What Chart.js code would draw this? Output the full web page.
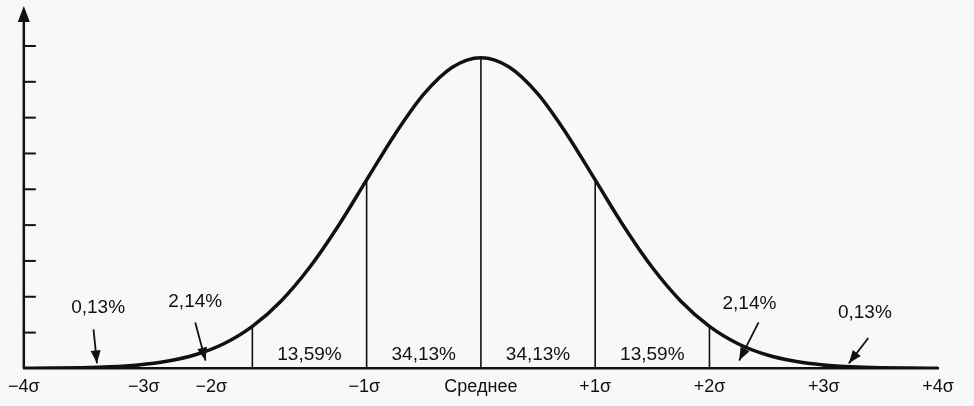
<!DOCTYPE html>
<html><head><meta charset="utf-8">
<script src="https://cdn.jsdelivr.net/npm/chart.js@4"></script>
<style>html,body{margin:0;padding:0;background:#f8f8f8}#w{width:974px;height:406px}</style>
</head><body><div id="w"><canvas id="c"></canvas></div>
<script>
const xValues = [-4,-3.75,-3.5,-3.25,-3,-2.75,-2.5,-2.25,-2,-1.75,-1.5,-1.25,-1,-0.75,-0.5,-0.25,0,0.25,0.5,0.75,1,1.25,1.5,1.75,2,2.25,2.5,2.75,3,3.25,3.5,3.75,4];
const density = [0.0001,0.0004,0.0009,0.0020,0.0044,0.0091,0.0175,0.0317,0.0540,0.0863,0.1295,0.1826,0.2420,0.3011,0.3521,0.3867,0.3989,0.3867,0.3521,0.3011,0.2420,0.1826,0.1295,0.0863,0.0540,0.0317,0.0175,0.0091,0.0044,0.0020,0.0009,0.0004,0.0001];
const tickPositions = [-4,-2.95,-2.36,-1.02,0,1,2,3,4];
const tickLabels = ['\u22124\u03c3','\u22123\u03c3','\u22122\u03c3','\u22121\u03c3','Среднее','+1\u03c3','+2\u03c3','+3\u03c3','+4\u03c3'];
const dividers = [-3,-2,-1,0,1,2,3];
const yTickValues = [0.046,0.092,0.138,0.184,0.230,0.276,0.322,0.368,0.414];
const bandLabels = ['13,59%','34,13%','34,13%','13,59%'];
const bandCenters = [-1.5,-0.5,0.5,1.5];
const tailLabels = ['0,13%','2,14%','2,14%','0,13%'];
const tailLabelPos = [[-3.35,0.078],[-2.5,0.086],[2.35,0.083],[3.36,0.072]];
const arrowFrom = [[-3.39,0.050],[-2.5,0.059],[2.43,0.059],[3.39,0.039]];
const arrowTo = [[-3.36,0.0065],[-2.41,0.010],[2.26,0.010],[3.22,0.0065]];

const deco = {
  id:'deco',
  afterDatasetsDraw(chart){
    const {ctx, scales:{x,y}, chartArea:a} = chart;
    ctx.save();
    ctx.strokeStyle='#111'; ctx.fillStyle='#111';
    ctx.lineWidth=2.5;
    ctx.beginPath(); ctx.moveTo(a.left,a.bottom); ctx.lineTo(a.left,a.top+8); ctx.stroke();
    ctx.beginPath(); ctx.moveTo(a.left,a.top-2); ctx.lineTo(a.left-6,a.top+14); ctx.lineTo(a.left+6,a.top+14); ctx.closePath(); ctx.fill();
    ctx.lineWidth=2;
    yTickValues.forEach(v=>{const py=y.getPixelForValue(v);ctx.beginPath();ctx.moveTo(a.left,py);ctx.lineTo(a.left+12,py);ctx.stroke();});
    ctx.lineWidth=1.6;
    dividers.forEach(d=>{const i=xValues.indexOf(d);const px=x.getPixelForValue(d);ctx.beginPath();ctx.moveTo(px,a.bottom);ctx.lineTo(px,y.getPixelForValue(density[i]));ctx.stroke();});
    ctx.font='19px "Liberation Sans", Arial, sans-serif';
    ctx.textAlign='center'; ctx.textBaseline='middle';
    bandLabels.forEach((t,i)=>ctx.fillText(t,x.getPixelForValue(bandCenters[i]),a.bottom-14));
    tailLabels.forEach((t,i)=>ctx.fillText(t,x.getPixelForValue(tailLabelPos[i][0]),y.getPixelForValue(tailLabelPos[i][1])));
    ctx.lineWidth=1.8;
    arrowFrom.forEach((f,i)=>{
      const x1=x.getPixelForValue(f[0]),y1=y.getPixelForValue(f[1]);
      const x2=x.getPixelForValue(arrowTo[i][0]),y2=y.getPixelForValue(arrowTo[i][1]);
      const ang=Math.atan2(y2-y1,x2-x1);
      ctx.beginPath();ctx.moveTo(x1,y1);ctx.lineTo(x2,y2);ctx.stroke();
      ctx.beginPath();ctx.moveTo(x2,y2);
      ctx.lineTo(x2-13*Math.cos(ang)+5*Math.sin(ang),y2-13*Math.sin(ang)-5*Math.cos(ang));
      ctx.lineTo(x2-13*Math.cos(ang)-5*Math.sin(ang),y2-13*Math.sin(ang)+5*Math.cos(ang));
      ctx.closePath();ctx.fill();
    });
    ctx.restore();
  }
};

new Chart(document.getElementById('c'),{
  type:'line',
  data:{datasets:[{data:xValues.map((v,i)=>({x:v,y:density[i]})),borderColor:'#111',borderWidth:3.5,pointRadius:0,cubicInterpolationMode:'monotone',fill:false}]},
  options:{
    responsive:true,maintainAspectRatio:false,animation:false,
    layout:{padding:{left:12,right:36,top:8,bottom:0}},
    plugins:{legend:{display:false},tooltip:{enabled:false}},
    scales:{
      x:{type:'linear',min:-4,max:4,
        afterBuildTicks(s){s.ticks=tickPositions.map(v=>({value:v}));},
        grid:{display:false,drawTicks:false},
        border:{display:true,color:'#111',width:2.5},
        ticks:{padding:8,maxRotation:0,autoSkip:false,color:'#111',font:{family:'"Liberation Sans", Arial, sans-serif',size:18},
          callback(v){const i=tickPositions.indexOf(v);return i>=0?tickLabels[i]:'';}}},
      y:{display:false,min:0,max:0.4628}
    }
  },
  plugins:[deco]
});
</script></body></html>
